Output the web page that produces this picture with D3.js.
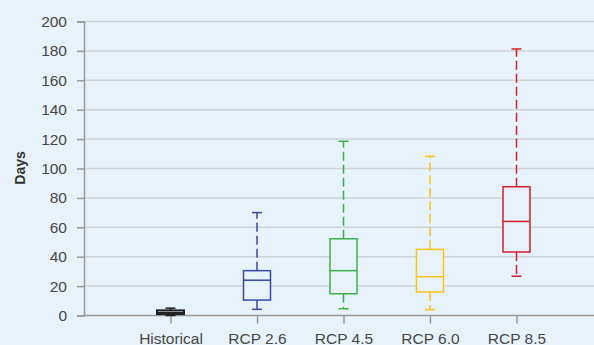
<!DOCTYPE html>
<html lang="en">
<head>
  <meta charset="UTF-8">
  <title>Days boxplot</title>
  <style>
    html, body { margin: 0; padding: 0; background: #e7f2fa; }
    svg { display: block; font-family: "Liberation Sans", Arial, sans-serif; }
  </style>
</head>
<body>
  <svg width="594" height="345"></svg>

  <script src="https://d3js.org/d3.v7.min.js"></script>
  <script>
    // categories and box statistics (days)
    const categories = ["Historical", "RCP 2.6", "RCP 4.5", "RCP 6.0", "RCP 8.5"];
    const whiskerLow  = [0,    4.2,  4.6,  4,    26.7];
    const q1          = [1,    10.5, 14.8, 16,   43.2];
    const median      = [2,    24,   30.5, 26.4, 64];
    const q3          = [3.5,  30.5, 52.2, 45,   87.6];
    const whiskerHigh = [5,    70,   118.5, 108.3, 181.3];
    const colors = ["#222222", "#3949a6", "#3cae4c", "#f6c51e", "#d2212e"];
    const yTicks = [0, 20, 40, 60, 80, 100, 120, 140, 160, 180, 200];

    const svg = d3.select("svg");
    const plotLeft = 84, plotBottom = 315.5, plotTop = 21.5;

    const x = d3.scaleLinear().domain([0, 6]).range([plotLeft, plotLeft + 6 * 86.5]);
    const y = d3.scaleLinear().domain([0, 200]).range([plotBottom, plotTop]);

    // grid lines
    svg.append("g").selectAll("line").data(yTicks.slice(1)).join("line")
      .attr("x1", plotLeft).attr("x2", 594)
      .attr("y1", d => y(d)).attr("y2", d => y(d))
      .attr("stroke", "#cfd3d6").attr("stroke-width", 1.5);

    // y axis
    const yAxis = svg.append("g").attr("transform", `translate(${plotLeft},0)`)
      .call(d3.axisLeft(y).tickValues(yTicks).tickSize(7).tickPadding(10));
    yAxis.select(".domain").attr("stroke", "#9a9a9a").attr("stroke-width", 1.5);
    yAxis.selectAll(".tick line").attr("stroke", "#9a9a9a").attr("stroke-width", 1.5);
    yAxis.selectAll(".tick text").attr("fill", "#484848").attr("font-size", "15.5px")
      .attr("font-family", "Liberation Sans, Arial, sans-serif");

    // x axis
    const xAxis = svg.append("g").attr("transform", `translate(0,${plotBottom})`)
      .call(d3.axisBottom(x).tickValues([1, 2, 3, 4, 5])
        .tickFormat(d => categories[d - 1]).tickSize(8).tickPadding(9).tickSizeOuter(0));
    xAxis.select(".domain").attr("stroke", "#9a9a9a").attr("stroke-width", 1.5)
      .attr("d", `M${plotLeft},0H594`);
    xAxis.selectAll(".tick line").attr("stroke", "#9a9a9a").attr("stroke-width", 1.5);
    xAxis.selectAll(".tick text").attr("fill", "#484848").attr("font-size", "15.5px")
      .attr("font-family", "Liberation Sans, Arial, sans-serif");

    // y label
    svg.append("text")
      .attr("transform", `translate(25,168) rotate(-90)`)
      .attr("text-anchor", "middle")
      .attr("font-size", "14px").attr("font-weight", "bold").attr("fill", "#333")
      .text("Days");

    // boxes
    const boxW = 27, capW = 10;
    categories.forEach((c, i) => {
      const cx = x(i + 1);
      const col = colors[i];
      const g = svg.append("g");
      // whiskers
      g.append("line").attr("x1", cx).attr("x2", cx)
        .attr("y1", y(q3[i])).attr("y2", y(whiskerHigh[i]))
        .attr("stroke", col).attr("stroke-width", 1.5).attr("stroke-dasharray", "9 4");
      g.append("line").attr("x1", cx).attr("x2", cx)
        .attr("y1", y(q1[i])).attr("y2", y(whiskerLow[i]))
        .attr("stroke", col).attr("stroke-width", 1.5).attr("stroke-dasharray", "9 4");
      // caps
      [whiskerHigh[i], whiskerLow[i]].forEach(v => {
        g.append("line").attr("x1", cx - capW / 2).attr("x2", cx + capW / 2)
          .attr("y1", y(v)).attr("y2", y(v))
          .attr("stroke", col).attr("stroke-width", 1.5);
      });
      // box
      g.append("rect")
        .attr("x", cx - boxW / 2).attr("width", boxW)
        .attr("y", y(q3[i])).attr("height", y(q1[i]) - y(q3[i]))
        .attr("fill", "#e7f2fa").attr("stroke", col)
        .attr("stroke-width", i === 0 ? 2 : 1.5);
      // median
      g.append("line").attr("x1", cx - boxW / 2).attr("x2", cx + boxW / 2)
        .attr("y1", y(median[i])).attr("y2", y(median[i]))
        .attr("stroke", col).attr("stroke-width", 1.5);
    });
  </script>
</body>
</html>
